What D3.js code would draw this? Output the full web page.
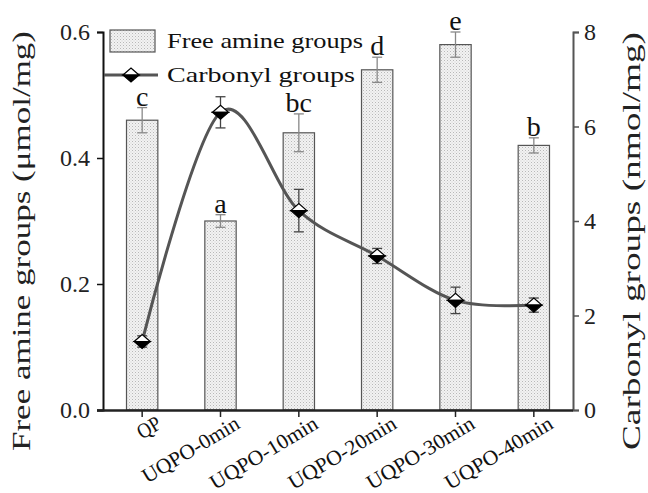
<!DOCTYPE html>
<html>
<head>
<meta charset="utf-8">
<script src="https://cdn.jsdelivr.net/npm/d3@7"></script>
<style>
  body { margin: 0; background: #fff; }
  svg { font-family: "Liberation Serif", serif; }
</style>
</head>
<body>
<div id="chart"></div>
<script>
// data
const categories = ['QP', 'UQPO-0min', 'UQPO-10min', 'UQPO-20min', 'UQPO-30min', 'UQPO-40min']
const amineValues = [0.46, 0.30, 0.44, 0.54, 0.58, 0.42]
const amineErrors = [0.02, 0.01, 0.03, 0.02, 0.02, 0.012]
const amineLetters = ['c', 'a', 'bc', 'd', 'e', 'b']
const carbonylValues = [1.45, 6.3, 4.22, 3.26, 2.32, 2.22]
const carbonylErrors = [0.12, 0.33, 0.45, 0.16, 0.28, 0.15]
const leftTicks = [0.0, 0.2, 0.4, 0.6]
const rightTicks = [0, 2, 4, 6, 8]

const width = 648
const height = 493
const margin = { top: 32, right: 75, bottom: 83, left: 103 }
const x0 = margin.left
const x1 = width - margin.right
const yBase = height - margin.bottom

const svg = d3.select('#chart').append('svg')
  .attr('width', width)
  .attr('height', height)

// stipple fill for the bars
const defs = svg.append('defs')
const pat = defs.append('pattern')
  .attr('id', 'dots')
  .attr('patternUnits', 'userSpaceOnUse')
  .attr('width', 3).attr('height', 3)
pat.append('rect').attr('width', 3).attr('height', 3).attr('fill', '#f2f2f2')
pat.append('rect').attr('width', 1).attr('height', 1).attr('fill', '#b8b8b8')
pat.append('rect').attr('x', 1.5).attr('y', 1.5).attr('width', 1).attr('height', 1).attr('fill', '#d0d0d0')

const x = d3.scaleBand()
  .domain(categories)
  .range([x0, x1])
  .paddingInner(0.6)
  .paddingOuter(0.3)

const yL = d3.scaleLinear().domain([0, 0.6]).range([yBase, margin.top])
const yR = d3.scaleLinear().domain([0, 8]).range([yBase, margin.top])

const cx = d => x(d) + x.bandwidth() / 2

// bars
const bars = svg.append('g')
bars.selectAll('rect')
  .data(categories)
  .enter().append('rect')
    .attr('x', d => x(d))
    .attr('y', (d, i) => yL(amineValues[i]))
    .attr('width', x.bandwidth())
    .attr('height', (d, i) => yBase - yL(amineValues[i]))
    .attr('fill', 'url(#dots)')
    .attr('stroke', '#555')
    .attr('stroke-width', 1.2)

// bar error bars
const barErr = svg.append('g').attr('stroke', '#888').attr('stroke-width', 1.3)
categories.forEach((c, i) => {
  const xc = cx(c)
  const top = yL(amineValues[i] + amineErrors[i])
  const bot = yL(amineValues[i] - amineErrors[i])
  barErr.append('line').attr('x1', xc).attr('x2', xc).attr('y1', top).attr('y2', bot)
  barErr.append('line').attr('x1', xc - 5).attr('x2', xc + 5).attr('y1', top).attr('y2', top)
  barErr.append('line').attr('x1', xc - 5).attr('x2', xc + 5).attr('y1', bot).attr('y2', bot)
})

// significance letters
svg.append('g').selectAll('text')
  .data(categories)
  .enter().append('text')
    .attr('x', d => cx(d))
    .attr('y', (d, i) => yL(amineValues[i] + amineErrors[i]) - 2)
    .attr('text-anchor', 'middle')
    .attr('font-size', 28)
    .attr('fill', '#111')
    .text((d, i) => amineLetters[i])

// carbonyl line
const line = d3.line()
  .x(d => cx(d.c))
  .y(d => yR(d.v))
  .curve(d3.curveCardinal.tension(0))
const pts = categories.map((c, i) => ({ c, v: carbonylValues[i], e: carbonylErrors[i] }))
svg.append('path')
  .datum(pts)
  .attr('d', line)
  .attr('fill', 'none')
  .attr('stroke', '#555')
  .attr('stroke-width', 3)

const lineErr = svg.append('g').attr('stroke', '#444').attr('stroke-width', 1.3)
pts.forEach(p => {
  const xc = cx(p.c)
  const top = yR(p.v + p.e)
  const bot = yR(p.v - p.e)
  lineErr.append('line').attr('x1', xc).attr('x2', xc).attr('y1', top).attr('y2', bot)
  lineErr.append('line').attr('x1', xc - 5).attr('x2', xc + 5).attr('y1', top).attr('y2', top)
  lineErr.append('line').attr('x1', xc - 5).attr('x2', xc + 5).attr('y1', bot).attr('y2', bot)
})

// half-filled diamond marker
function diamond (g, xc, yc) {
  const w = 8, h = 7
  g.append('path')
    .attr('d', `M${xc - w},${yc} L${xc},${yc - h} L${xc + w},${yc} Z`)
    .attr('fill', '#fff').attr('stroke', '#000').attr('stroke-width', 1.2)
  g.append('path')
    .attr('d', `M${xc - w},${yc} L${xc},${yc + h} L${xc + w},${yc} Z`)
    .attr('fill', '#000').attr('stroke', '#000').attr('stroke-width', 1.2)
}
const markers = svg.append('g')
pts.forEach(p => diamond(markers, cx(p.c), yR(p.v)))

// axes
const axL = svg.append('g')
  .attr('transform', `translate(${x0},0)`)
  .call(d3.axisLeft(yL).tickValues(leftTicks).tickFormat(d3.format('.1f')).tickSize(6))
axL.select('.domain').attr('stroke', '#111').attr('stroke-width', 2)
axL.selectAll('.tick line').attr('stroke', '#111').attr('stroke-width', 1.5)
axL.selectAll('.tick text').attr('font-size', 24).attr('font-family', 'Liberation Serif')
  .attr('fill', '#222').attr('dx', '-4').attr('dy', '0.32em')

const axR = svg.append('g')
  .attr('transform', `translate(${x1},0)`)
  .call(d3.axisRight(yR).tickValues(rightTicks).tickSize(6))
axR.select('.domain').attr('stroke', '#555').attr('stroke-width', 2)
axR.selectAll('.tick line').attr('stroke', '#555').attr('stroke-width', 1.5)
axR.selectAll('.tick text').attr('font-size', 24).attr('font-family', 'Liberation Serif')
  .attr('fill', '#222').attr('dx', '2').attr('dy', '0.32em')

const axB = svg.append('g')
  .attr('transform', `translate(0,${yBase})`)
  .call(d3.axisBottom(x).tickSize(7).tickSizeOuter(0))
axB.select('.domain').attr('stroke', '#222').attr('stroke-width', 2.5)
  .attr('d', `M${x0 - 6},0.5H${x1}`)
axB.selectAll('.tick line').attr('stroke', '#222').attr('stroke-width', 1.5)
axB.selectAll('.tick text')
  .attr('x', 0)
  .attr('y', 0)
  .attr('dy', '0.35em')
  .attr('font-size', 21)
  .attr('font-family', 'Liberation Serif')
  .attr('fill', '#111')
  .attr('text-anchor', 'end')
  .attr('textLength', d => d.length * 12.2)
  .attr('lengthAdjust', 'spacingAndGlyphs')
  .attr('transform', 'translate(17,11) rotate(-31)')

// axis titles
svg.append('text')
  .attr('transform', `translate(30,${(yBase + margin.top) / 2 + 20}) rotate(-90)`)
  .attr('text-anchor', 'middle')
  .attr('font-size', 26)
  .attr('fill', '#222')
  .attr('textLength', 420)
  .attr('lengthAdjust', 'spacingAndGlyphs')
  .text('Free amine groups (μmol/mg)')

svg.append('text')
  .attr('transform', `translate(640,${(yBase + margin.top) / 2 + 20}) rotate(-90)`)
  .attr('text-anchor', 'middle')
  .attr('font-size', 26)
  .attr('fill', '#222')
  .attr('textLength', 418)
  .attr('lengthAdjust', 'spacingAndGlyphs')
  .text('Carbonyl groups (nmol/mg)')

// legend
const lg = svg.append('g')
lg.append('rect')
  .attr('x', 110).attr('y', 30).attr('width', 45).attr('height', 22)
  .attr('fill', 'url(#dots)').attr('stroke', '#555').attr('stroke-width', 1.2)
lg.append('text')
  .attr('x', 167).attr('y', 48)
  .attr('font-size', 21).attr('fill', '#111')
  .attr('textLength', 196).attr('lengthAdjust', 'spacingAndGlyphs')
  .text('Free amine groups')
lg.append('line')
  .attr('x1', 104).attr('x2', 158).attr('y1', 75).attr('y2', 75)
  .attr('stroke', '#555').attr('stroke-width', 3)
diamond(lg, 131, 75)
lg.append('text')
  .attr('x', 167).attr('y', 82)
  .attr('font-size', 21).attr('fill', '#111')
  .attr('textLength', 188).attr('lengthAdjust', 'spacingAndGlyphs')
  .text('Carbonyl groups')
</script>
</body>
</html>
